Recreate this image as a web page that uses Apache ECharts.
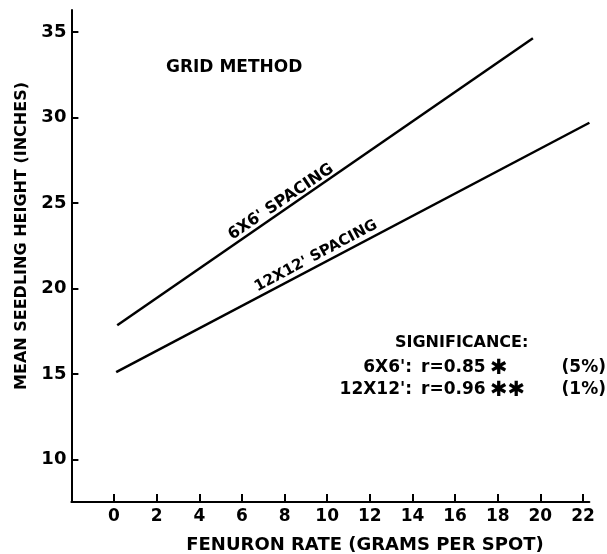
<!DOCTYPE html>
<html>
<head>
<meta charset="utf-8">
<script src="https://cdn.jsdelivr.net/npm/echarts@6/dist/echarts.min.js"></script>
<style>html,body{margin:0;padding:0;background:#fff}#c{width:607px;height:554px}</style>
</head>
<body>
<div id="c"></div>
<script>
// Data
const xTickValues = [0, 2, 4, 6, 8, 10, 12, 14, 16, 18, 20, 22];
const yTickValues = [10, 15, 20, 25, 30, 35];
const rate6x6 = [0.15, 19.65];
const height6x6 = [17.85, 34.65];
const rate12x12 = [0.1, 22.3];
const height12x12 = [15.1, 29.7];

const F = 'DejaVu Sans';
const chart = echarts.init(document.getElementById('c'), null, {renderer: 'canvas'});
const deg = Math.PI / 180;
function txt(x, y, s, size, opts) {
  return Object.assign({
    type: 'text', x: x, y: y, silent: true,
    style: Object.assign({text: s, fill: '#000', font: 'bold ' + size + 'px "' + F + '"', textAlign: 'left', textVerticalAlign: 'middle'}, (opts && opts.style) || {})
  }, opts && opts.el || {});
}
chart.setOption({
  animation: false,
  backgroundColor: '#fff',
  grid: {left: 71.4, right: 17.6, top: 10, bottom: 52, containLabel: false},
  xAxis: {
    type: 'value', min: -2, max: 22.3,
    splitLine: {show: false},
    axisLine: {onZero: false, lineStyle: {color: '#000', width: 2}},
    axisTick: {inside: true, length: 8, lineStyle: {color: '#000', width: 2}, customValues: xTickValues},
    axisLabel: {customValues: xTickValues, color: '#000', fontFamily: F, fontWeight: 'bold', fontSize: 17, margin: 6}
  },
  yAxis: {
    type: 'value', min: 7.5, max: 36.3,
    splitLine: {show: false},
    axisLine: {onZero: false, lineStyle: {color: '#000', width: 2}},
    axisTick: {inside: true, length: 7, lineStyle: {color: '#000', width: 2}, customValues: yTickValues},
    axisLabel: {customValues: yTickValues, color: '#000', fontFamily: F, fontWeight: 'bold', fontSize: 18, margin: 5}
  },
  series: [
    {type: 'line', name: "6X6'", data: rate6x6.map((x, i) => [x, height6x6[i]]), symbol: 'none', lineStyle: {color: '#000', width: 2.5}},
    {type: 'line', name: "12X12'", data: rate12x12.map((x, i) => [x, height12x12[i]]), symbol: 'none', lineStyle: {color: '#000', width: 2.5}}
  ],
  graphic: [
    txt(22, 236, 'MEAN SEEDLING HEIGHT (INCHES)', 16, {style: {textAlign: 'center'}, el: {rotation: 90 * deg}}),
    txt(365, 545, 'FENURON RATE (GRAMS PER SPOT)', 18, {style: {textAlign: 'center'}}),
    txt(166, 68, 'GRID METHOD', 17),
    txt(281, 202, "6X6' SPACING", 16, {style: {textAlign: 'center'}, el: {rotation: 34 * deg}}),
    txt(316, 256, "12X12' SPACING", 15, {style: {textAlign: 'center'}, el: {rotation: 28 * deg}}),
    txt(395, 343, 'SIGNIFICANCE:', 16),
    txt(412, 368, "6X6':", 17, {style: {textAlign: 'right'}}),
    txt(421, 368, 'r=0.85', 17),
    txt(490, 369, '\u2731', 21),
    txt(606, 368, '(5%)', 17, {style: {textAlign: 'right'}}),
    txt(412, 390, "12X12':", 17, {style: {textAlign: 'right'}}),
    txt(421, 390, 'r=0.96', 17),
    txt(490, 391, '\u2731\u2731', 21),
    txt(606, 390, '(1%)', 17, {style: {textAlign: 'right'}})
  ]
});
</script>
</body>
</html>
